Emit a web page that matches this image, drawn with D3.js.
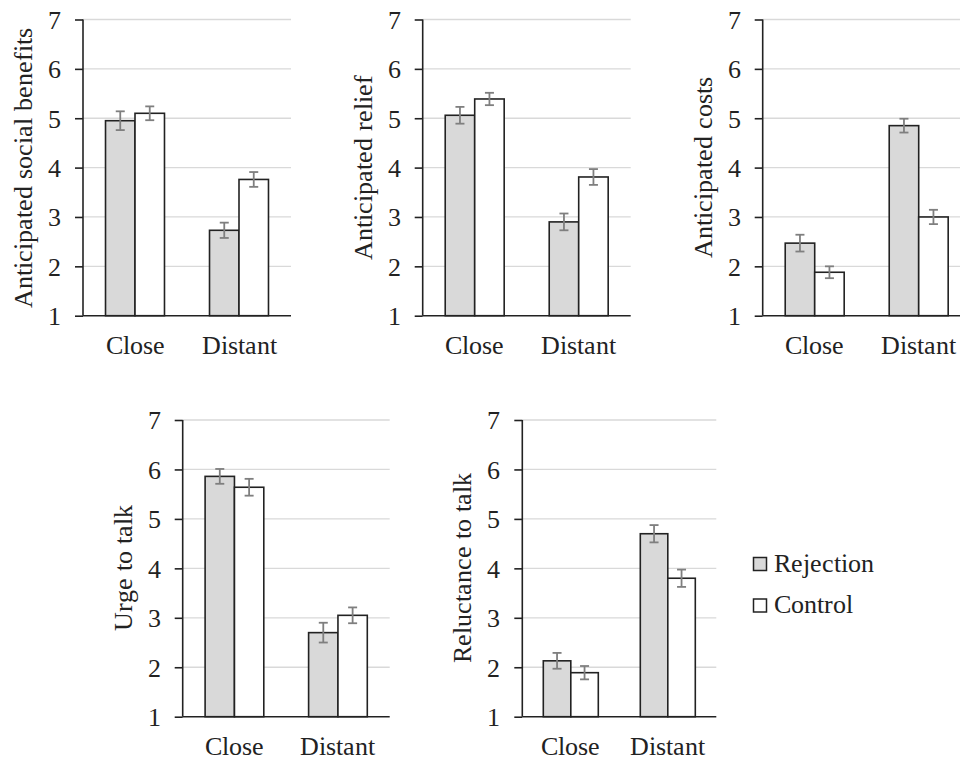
<!DOCTYPE html>
<html>
<head>
<meta charset="utf-8">
<script src="https://cdn.jsdelivr.net/npm/d3@7"></script>
<style>
  @font-face { font-family: "RefSerif"; src: local("Liberation Serif"), local("LiberationSerif"), local("Tinos"), local("Times New Roman"); }
</style>
</head>
<body style="margin:0;background:#fff">
<svg id="chart" width="960" height="760" style="font-family: RefSerif, 'Liberation Serif', Tinos;"></svg>
<script>
// ---- data ----
const categories = ["Close", "Distant"];
const seriesNames = ["Rejection", "Control"];
const yTickValues = [1, 2, 3, 4, 5, 6, 7];
const panelTitles = ["Anticipated social benefits", "Anticipated relief", "Anticipated costs", "Urge to talk", "Reluctance to talk"];

const socialRejection = [4.95, 2.73];
const socialControl   = [5.10, 3.76];
const socialRejErr    = [0.19, 0.155];
const socialCtrlErr   = [0.14, 0.15];

const reliefRejection = [5.06, 2.90];
const reliefControl   = [5.39, 3.81];
const reliefRejErr    = [0.17, 0.17];
const reliefCtrlErr   = [0.125, 0.16];

const costsRejection  = [2.47, 4.85];
const costsControl    = [1.88, 3.00];
const costsRejErr     = [0.17, 0.14];
const costsCtrlErr    = [0.12, 0.145];

const urgeRejection   = [5.86, 2.70];
const urgeControl     = [5.64, 3.05];
const urgeRejErr      = [0.15, 0.20];
const urgeCtrlErr     = [0.17, 0.16];

const reluctRejection = [2.13, 4.70];
const reluctControl   = [1.89, 3.80];
const reluctRejErr    = [0.16, 0.175];
const reluctCtrlErr   = [0.135, 0.175];

// ---- layout (positions only) ----
const layout = [
  { x: 83,    y: 19.5,  w: 208, h: 296.2 },
  { x: 422.7, y: 19.5,  w: 208, h: 296.2 },
  { x: 762.7, y: 19.5,  w: 208, h: 296.2 },
  { x: 182.7, y: 420,   w: 207, h: 296.7 },
  { x: 522.3, y: 420,   w: 194, h: 296.7 }
];
const panelValues = [
  [socialRejection, socialControl, socialRejErr, socialCtrlErr],
  [reliefRejection, reliefControl, reliefRejErr, reliefCtrlErr],
  [costsRejection, costsControl, costsRejErr, costsCtrlErr],
  [urgeRejection, urgeControl, urgeRejErr, urgeCtrlErr],
  [reluctRejection, reluctControl, reluctRejErr, reluctCtrlErr]
];
const fills = ["#d9d9d9", "#ffffff"];
const textStyle = sel => sel
  .style("font-family", "RefSerif, 'Liberation Serif', Tinos")
  .style("font-size", "26px").style("fill", "#222");

const svg = d3.select("#chart");

panelTitles.forEach((title, i) => {
  const L = layout[i];
  const [rej, ctl, rejE, ctlE] = panelValues[i];
  const g = svg.append("g").attr("transform", `translate(${L.x},${L.y})`);

  const y = d3.scaleLinear().domain([1, 7]).range([L.h, 0]);
  const x0 = d3.scaleBand().domain(categories).range([0, L.w])
    .paddingInner(0.433).paddingOuter(0.2165);
  const x1 = d3.scaleBand().domain(seriesNames).range([0, x0.bandwidth()]);

  // gridlines
  g.append("g").selectAll("line").data(yTickValues.slice(1)).join("line")
    .attr("x1", 0).attr("x2", L.w)
    .attr("y1", d => y(d)).attr("y2", d => y(d))
    .attr("stroke", "#d9d9d9").attr("stroke-width", 1.3);

  // bars
  const rows = categories.map((c, k) => ({
    cat: c,
    vals: [
      { s: seriesNames[0], v: rej[k], e: rejE[k], idx: 0 },
      { s: seriesNames[1], v: ctl[k], e: ctlE[k], idx: 1 }
    ]
  }));
  const grp = g.append("g").selectAll("g").data(rows).join("g")
    .attr("transform", d => `translate(${x0(d.cat)},0)`);
  grp.selectAll("rect").data(d => d.vals).join("rect")
    .attr("x", d => x1(d.s))
    .attr("y", d => y(d.v))
    .attr("width", x1.bandwidth())
    .attr("height", d => y(1) - y(d.v))
    .attr("fill", d => fills[d.idx])
    .attr("stroke", "#222").attr("stroke-width", 1.6);

  // error bars
  const eb = grp.selectAll("g.err").data(d => d.vals).join("g").attr("class", "err")
    .attr("stroke", "#7f7f7f").attr("stroke-width", 1.8);
  const cx = d => x1(d.s) + x1.bandwidth() / 2;
  eb.append("line")
    .attr("x1", cx).attr("x2", cx)
    .attr("y1", d => y(d.v + d.e)).attr("y2", d => y(d.v - d.e));
  eb.append("line")
    .attr("x1", d => cx(d) - 4.5).attr("x2", d => cx(d) + 4.5)
    .attr("y1", d => y(d.v + d.e)).attr("y2", d => y(d.v + d.e));
  eb.append("line")
    .attr("x1", d => cx(d) - 4.5).attr("x2", d => cx(d) + 4.5)
    .attr("y1", d => y(d.v - d.e)).attr("y2", d => y(d.v - d.e));

  // y axis
  const yAxis = d3.axisLeft(y).tickValues(yTickValues).tickFormat(d3.format("d"))
    .tickSize(8).tickPadding(14);
  const ya = g.append("g").call(yAxis).attr("font-family", null).attr("font-size", null);
  ya.select(".domain").attr("stroke", "#222").attr("stroke-width", 1.6)
    .attr("d", `M0,${y(7)}V${y(1)}`);
  ya.selectAll(".tick line").attr("stroke", "#222").attr("stroke-width", 1.6);
  ya.selectAll(".tick text").call(textStyle).attr("dy", "0.34em");

  // x baseline + labels
  g.append("line").attr("x1", 0).attr("x2", L.w).attr("y1", y(1)).attr("y2", y(1))
    .attr("stroke", "#222").attr("stroke-width", 1.6);
  g.append("g").selectAll("text").data(categories).join("text")
    .attr("x", d => x0(d) + x0.bandwidth() / 2)
    .attr("y", y(1) + 38)
    .attr("text-anchor", "middle")
    .call(textStyle)
    .text(d => d);

  // y title
  g.append("text")
    .attr("transform", `translate(-60,${L.h / 2}) rotate(-90)`)
    .attr("text-anchor", "middle")
    .attr("dy", "0.35em")
    .call(textStyle)
    .text(title);
});

// legend
const legend = svg.append("g").attr("transform", "translate(753.5,557.5)");
seriesNames.forEach((s, i) => {
  const row = legend.append("g").attr("transform", `translate(0,${i * 41.5})`);
  row.append("rect").attr("width", 13).attr("height", 13)
    .attr("fill", fills[i]).attr("stroke", "#222").attr("stroke-width", 1.5);
  row.append("text").attr("x", 20).attr("y", 14)
    .call(textStyle).text(s);
});
</script>
</body>
</html>
